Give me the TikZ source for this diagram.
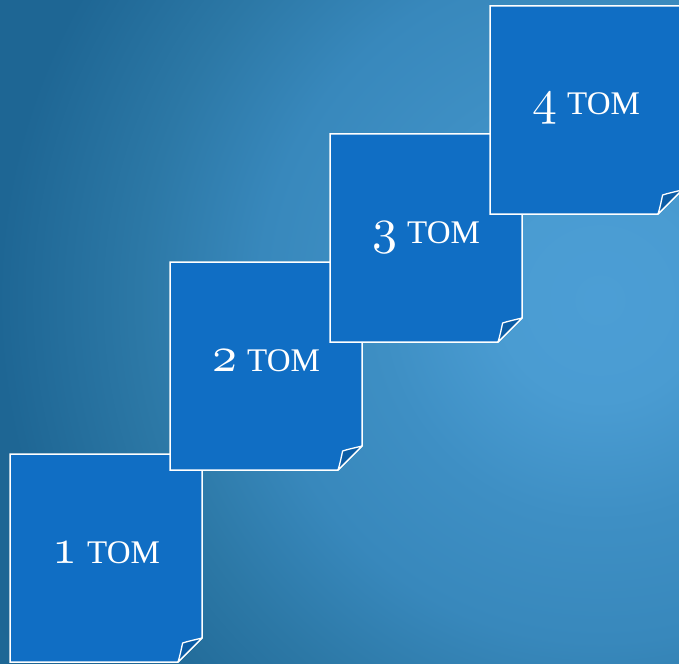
\documentclass[tikz,border=0pt]{standalone}
\usepackage{graphicx}
\usepackage{fontspec}
\newfontfamily\libser{Liberation Serif}
\definecolor{bgA}{HTML}{4C9ED5}
\definecolor{bgB}{HTML}{4A9CD2}
\definecolor{bgC}{HTML}{3E8FC4}
\definecolor{bgD}{HTML}{3888BC}
\definecolor{bgE}{HTML}{2C78A6}
\definecolor{bgF}{HTML}{1E6694}
\definecolor{bgG}{HTML}{1E6795}
\definecolor{boxblue}{HTML}{106EC4}
\definecolor{flapblue}{HTML}{0C5DA6}
\pgfdeclareradialshading{bgshade}{\pgfpoint{0bp}{0bp}}{color(0bp)=(bgA); color(100bp)=(bgB); color(220bp)=(bgC); color(340bp)=(bgD); color(460bp)=(bgE); color(600bp)=(bgF); color(760bp)=(bgG)}
\tikzset{
  volbox/.style={fill=boxblue, draw=white, line width=1.5pt, line join=miter},
  flap/.style={fill=flapblue, draw=white, line width=1.3pt, line join=round},
  vollabel/.style={text=white, inner sep=0pt, anchor=base}
}
\newcommand{\osdigit}[1]{\scalebox{5}{$\mathnormal{#1}$}}
\newcommand{\voltext}[1]{\osdigit{#1}\hspace{10pt}{\libser\fontsize{33}{33}\selectfont ТОМ}}
\begin{document}
\begin{tikzpicture}[x=1pt,y=-1pt]
\useasboundingbox (0,0) rectangle (679,663);
\begin{scope}
\clip (0,0) rectangle (679,663);
\node[inner sep=0pt, outer sep=0pt] (bg) at (600,300) {\pgfuseshading{bgshade}};
\foreach \i/\L/\T in {1/10/454, 2/170/262, 3/330/134, 4/490/6}{
  \pgfmathsetmacro{\R}{\L+192}
  \pgfmathsetmacro{\B}{\T+208}
  \draw[volbox] (\L,\T) -- (\R,\T) -- (\R,\B-24) -- (\R-24,\B) -- (\L,\B) -- cycle;
  \draw[flap] (\R,\B-24) .. controls (\R-8,\B-22) and (\R-15,\B-20.5) .. (\R-19.4,\B-19)
     .. controls (\R-20.5,\B-14) and (\R-22,\B-6) .. (\R-24,\B) -- cycle;
  \node[vollabel] (label\i) at (\L+96,\B-99) {\voltext{\i}};
}
\end{scope}
\end{tikzpicture}
\end{document}
